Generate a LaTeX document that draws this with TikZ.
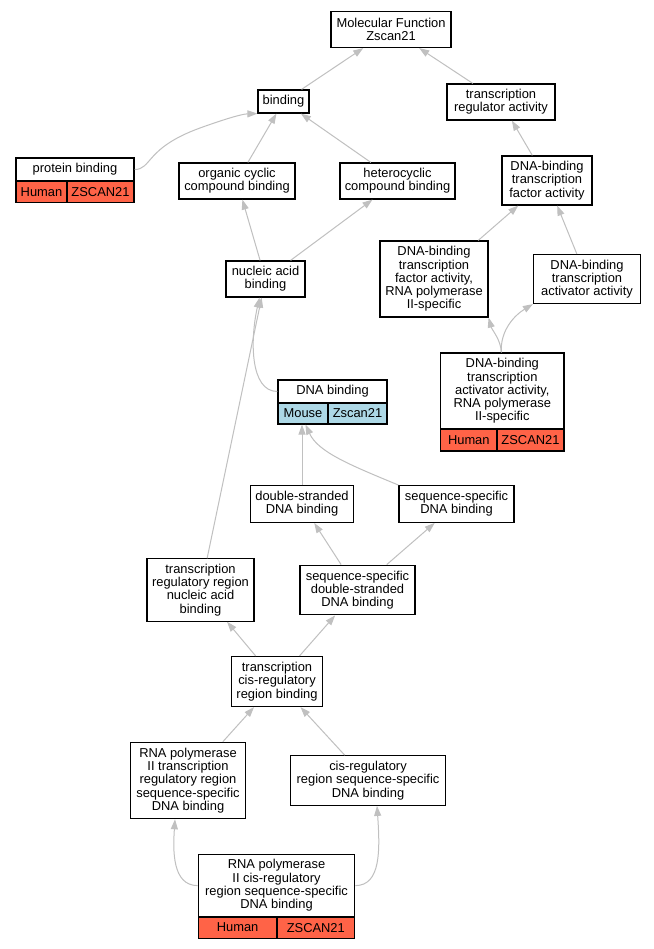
\documentclass[tikz,border=0pt]{standalone}
\usepackage{fontspec}
\setmainfont{Liberation Sans}
\usetikzlibrary{arrows.meta,calc}
\definecolor{edgegray}{HTML}{C0C0C0}
\definecolor{human}{HTML}{FF6347}
\definecolor{mouse}{HTML}{ADD8E6}
\begin{document}
\begin{tikzpicture}[x=1pt,y=-1pt,
  box/.style={draw=black, line width=1.2pt, fill=white, inner sep=0pt, align=center,
    font=\fontsize{12.9}{13.3}\selectfont},
  wh/.style 2 args={minimum width=#1pt, minimum height=#2pt},
  hum/.style={box, fill=human},
  mou/.style={box, fill=mouse},
  link/.style={draw=edgegray, line width=1pt, -{Triangle[length=10pt,width=7pt]}}]
\useasboundingbox[fill=white] (0,0) rectangle (653,949);

\node[box, wh={120}{36}] (mf) at (391,29.5) {Molecular Function\\Zscan21};
\node[box, wh={51}{23}] (bind) at (283.5,101.5) {binding};
\node[box, wh={108}{36}] (tra) at (501,102) {transcription\\regulator activity};
\node[box, wh={118}{23}] (pb) at (75,169.5) {protein binding};
\node[hum, wh={51}{21.5}] (pbh) at (41.5,191.75) {Human};
\node[hum, wh={67}{21.5}] (pbz) at (100.5,191.75) {ZSCAN21};
\node[box, wh={116}{36}] (occ) at (237,181) {organic cyclic\\compound binding};
\node[box, wh={115}{36}] (hcc) at (397.5,181) {heterocyclic\\compound binding};
\node[box, wh={90}{49}] (dbtf) at (547,180.5) {DNA-binding\\transcription\\factor activity};
\node[box, wh={79}{36}] (nab) at (265.5,279) {nucleic acid\\binding};
\node[box, wh={108}{76}] (dbtfp) at (434,279) {DNA-binding\\transcription\\factor activity,\\RNA polymerase\\II-specific};
\node[box, wh={107}{49}] (dbta) at (587,279) {DNA-binding\\transcription\\activator activity};
\node[box, wh={109}{23}] (dnab) at (332.5,391.5) {DNA binding};
\node[mou, wh={50}{21}] (dnam) at (303,413.5) {Mouse};
\node[mou, wh={59}{21}] (dnaz) at (357.5,413.5) {Zscan21};
\node[box, wh={123.4}{76}] (dbtap) at (502.3,391) {DNA-binding\\transcription\\activator activity,\\RNA polymerase\\II-specific};
\node[hum, wh={56.4}{22}] (dbtaph) at (468.8,440) {Human};
\node[hum, wh={67}{22}] (dbtapz) at (530.5,440) {ZSCAN21};
\node[box, wh={103.5}{36.7}] (dsdna) at (302,504) {double-stranded\\DNA binding};
\node[box, wh={115}{36.7}] (ssdna) at (456.5,504) {sequence-specific\\DNA binding};
\node[box, wh={107}{62.3}] (trrnab) at (200.5,590) {transcription\\regulatory region\\nucleic acid\\binding};
\node[box, wh={115}{49.7}] (ssds) at (357.5,590) {sequence-specific\\double-stranded\\DNA binding};
\node[box, wh={91}{50}] (tcrrb) at (277,681.5) {transcription\\cis-regulatory\\region binding};
\node[box, wh={115}{76.4}] (rptr) at (188,780.5) {RNA polymerase\\II transcription\\regulatory region\\sequence-specific\\DNA binding};
\node[box, wh={155}{49.6}] (crss) at (368,780.5) {cis-regulatory\\region sequence-specific\\DNA binding};
\node[box, wh={156.4}{62.7}] (rpcr) at (276.5,885.6) {RNA polymerase\\II cis-regulatory\\region sequence-specific\\DNA binding};
\node[hum, wh={78.7}{21.3}] (rpcrh) at (237.6,927.6) {Human};
\node[hum, wh={77.7}{21.3}] (rpcrz) at (315.8,927.6) {ZSCAN21};

\draw[link] (bind) -- (mf);
\draw[link] (tra) -- (mf);
\draw[link] (pb.east) .. controls (152,169.5) and (145,148) .. (200,128) .. controls (225,119) and (242,114) .. (bind.south west);
\draw[link] (occ) -- (bind);
\draw[link] (hcc) -- (bind);
\draw[link] (dbtf) -- (tra);
\draw[link] (nab) -- (occ);
\draw[link] (nab) -- (hcc);
\draw[link] (dbtfp) -- (dbtf);
\draw[link] (dbta) -- (dbtf);
\draw[link] (dnab.west) .. controls (250,391.5) and (250,340) .. ($(nab.south)+(-6,0)$);
\draw[link] (trrnab) -- (nab);
\draw[link] ($(dbtap.north)+(-1,0)$) .. controls (501,340) and (492,330) .. (dbtfp.south east);
\draw[link] ($(dbtap.north)+(-1,0)$) .. controls (500,330) and (515,315) .. (dbta.south west);
\draw[link] (dsdna.north) -- (dsdna.north |- dnam.south);
\draw[link] (ssdna.north west) .. controls (350,465) and (318,452) .. ($(dnam.south)+(2.5,0)$);
\draw[link] (ssds) -- (dsdna);
\draw[link] (ssds) -- (ssdna);
\draw[link] (tcrrb) -- (trrnab);
\draw[link] (tcrrb) -- (ssds);
\draw[link] (rptr) -- (tcrrb);
\draw[link] (crss) -- (tcrrb);
\draw[link] (rpcr.west) .. controls (172,885.6) and (173,850) .. ($(rptr.south)+(-13,0)$);
\draw[link] (rpcr.east) .. controls (381,885.6) and (380,850) .. ($(crss.south)+(9,0)$);
\end{tikzpicture}
\end{document}
